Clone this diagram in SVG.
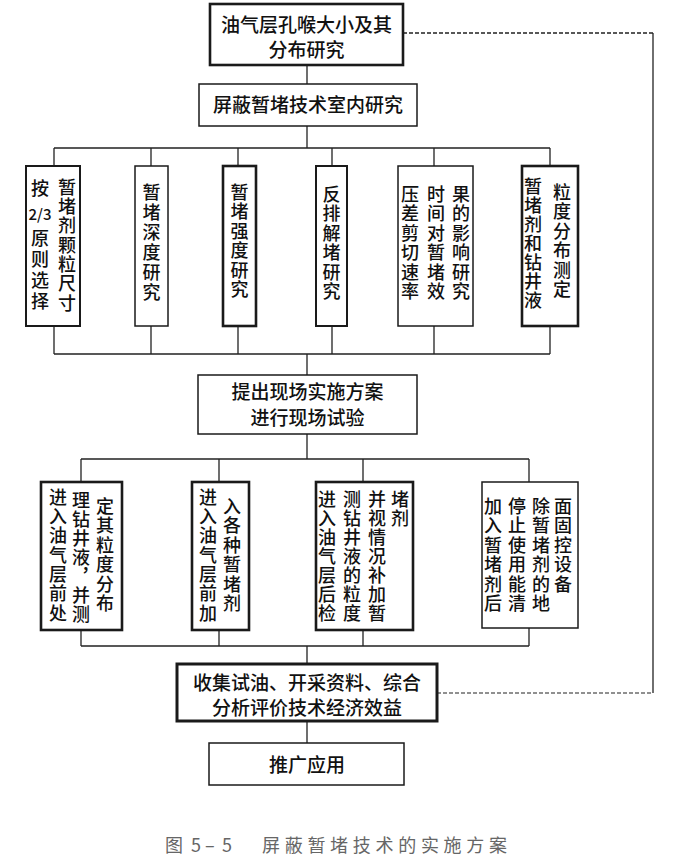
<svg xmlns="http://www.w3.org/2000/svg" width="691" height="861" viewBox="0 0 691 861">
<style>
.bx{fill:#fff;stroke:#1a1a1a;stroke-width:1.5}
.tk{stroke-width:2.6}
.ln{fill:none;stroke:#222;stroke-width:1.3}
.ds{fill:none;stroke:#222;stroke-width:1.4;stroke-dasharray:4 2}
.h{font-family:"Noto Sans CJK SC","Liberation Sans",sans-serif;font-size:19px;font-weight:500;fill:#111;text-anchor:middle}
.v{font-family:"Noto Sans CJK SC","Liberation Sans",sans-serif;font-size:18px;font-weight:500;fill:#111;writing-mode:vertical-rl;letter-spacing:1.5px}
.cap{font-family:"Noto Sans CJK SC","Liberation Serif",serif;font-size:18px;fill:#666}
</style>
<rect width="691" height="861" fill="#fff"/>
<g id="connectors">
<path class="ln" d="M307 65V84M307 126V148M54 148H550M54 148V166M151 148V166M238 148V166M332 148V166M434 148V166M550 148V166"/>
<path class="ln" d="M54 326V354M151 326V354M238 326V354M332 326V354M434 326V354M550 326V354M54 354H550M307 354V375"/>
<path class="ln" d="M307 434V459M81 459H529M81 459V482M219 459V482M363 459V482M529 459V482"/>
<path class="ln" d="M81 630V646M219 630V646M363 630V646M529 628V646M81 646H529M307 646V664M307 721V743"/>
<path class="ds" d="M403 33H653"/>
<path class="ln" d="M653 33V693"/>
<path class="ds" d="M437 693H653" style="stroke-width:1.2"/>
</g>
<g id="n1"><rect class="bx tk" x="210" y="4" width="193" height="61"/>
<text class="h" x="306.5" y="32">油气层孔喉大小及其</text><text class="h" x="306.5" y="57">分布研究</text></g>
<g id="n2"><rect class="bx" x="199" y="84" width="218" height="42"/>
<text class="h" x="308" y="112">屏蔽暂堵技术室内研究</text></g>
<g id="n3"><rect class="bx" x="26" y="166" width="54" height="160" style="stroke-width:2"/>
<text class="v" x="67" y="178" style="letter-spacing:1.3px">暂堵剂颗粒尺寸</text>
<text class="v" x="40" y="179">按</text>
<text class="h" x="40" y="220" style="font-size:15px">2/3</text>
<text class="v" x="40" y="229" style="letter-spacing:3px">原则选择</text></g>
<g id="n4"><rect class="bx" x="135" y="166" width="33" height="160"/>
<text class="v" x="151.5" y="183" style="letter-spacing:2px">暂堵深度研究</text></g>
<g id="n5"><rect class="bx tk" x="223" y="166" width="33" height="160"/>
<text class="v" x="239.5" y="183">暂堵强度研究</text></g>
<g id="n6"><rect class="bx" x="316" y="166" width="31" height="160" style="stroke-width:2"/>
<text class="v" x="331.5" y="185">反排解堵研究</text></g>
<g id="n7"><rect class="bx" x="398" y="166" width="75" height="160"/>
<text class="v" x="410" y="185">压差剪切速率</text>
<text class="v" x="436" y="185">时间对暂堵效</text>
<text class="v" x="461" y="185">果的影响研究</text></g>
<g id="n8"><rect class="bx tk" x="522" y="166" width="56" height="160"/>
<text class="v" x="533" y="177" style="letter-spacing:1px">暂堵剂和钻井液</text>
<text class="v" x="562" y="183">粒度分布测定</text></g>
<g id="n9"><rect class="bx" x="198" y="375" width="219" height="59"/>
<text class="h" x="307.5" y="399">提出现场实施方案</text><text class="h" x="307.5" y="425">进行现场试验</text></g>
<g id="n10"><rect class="bx tk" x="41" y="482" width="81" height="148"/>
<text class="v" x="58" y="488" style="letter-spacing:1.3px">进入油气层前处</text>
<text class="v" x="81" y="491" style="letter-spacing:1px">理钻井液，并测</text>
<text class="v" x="105" y="497">定其粒度分布</text></g>
<g id="n11"><rect class="bx tk" x="192" y="482" width="57" height="148"/>
<text class="v" x="208" y="488" style="letter-spacing:1.3px">进入油气层前加</text>
<text class="v" x="232" y="497">入各种暂堵剂</text></g>
<g id="n12"><rect class="bx tk" x="316" y="482" width="97" height="148"/>
<text class="v" x="327" y="490" style="letter-spacing:1.1px">进入油气层后检</text>
<text class="v" x="352" y="490" style="letter-spacing:1.1px">测钻井液的粒度</text>
<text class="v" x="377" y="490" style="letter-spacing:1.1px">并视情况补加暂</text>
<text class="v" x="400" y="490">堵剂</text></g>
<g id="n13"><rect class="bx" x="482" y="482" width="96" height="146"/>
<text class="v" x="493" y="497">加入暂堵剂后</text>
<text class="v" x="517" y="497">停止使用能清</text>
<text class="v" x="541" y="497">除暂堵剂的地</text>
<text class="v" x="563" y="497">面固控设备</text></g>
<g id="n14"><rect class="bx" x="177" y="664" width="260" height="57" style="stroke-width:3"/>
<text class="h" x="307" y="690">收集试油、开采资料、综合</text><text class="h" x="307" y="715">分析评价技术经济效益</text></g>
<g id="n15"><rect class="bx" x="209" y="743" width="195" height="42"/>
<text class="h" x="307" y="772">推广应用</text></g>
<text class="cap" y="852"><tspan x="165">图</tspan><tspan x="191">5</tspan><tspan x="205">–</tspan><tspan x="222">5</tspan><tspan x="262" style="letter-spacing:4.7px">屏蔽暂堵技术的实施方案</tspan></text>
</svg>
